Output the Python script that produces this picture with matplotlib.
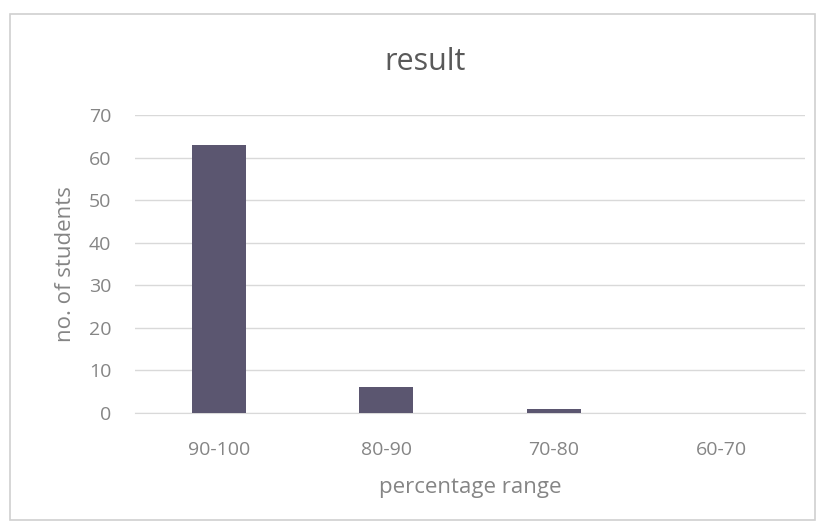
import matplotlib
matplotlib.use("Agg")
import matplotlib.pyplot as plt
from matplotlib.patches import Rectangle

categories = ["90-100", "80-90", "70-80", "60-70"]
students = [63, 6, 1, 0]

TEXT_COLOR = "#858585"
BAR_COLOR = "#5b5670"
GRID_COLOR = "#d9d9d9"

plt.rcParams["font.family"] = ["Open Sans", "DejaVu Sans"]

fig = plt.figure(figsize=(8.21, 5.25), dpi=100)
fig.patches.append(Rectangle((10 / 821, 5 / 525), 805 / 821, 506 / 525,
                             transform=fig.transFigure, fill=False,
                             edgecolor="#d0d0d0", linewidth=1.2))

ax = fig.add_axes([135 / 821, 1 - 413 / 525, 670 / 821, 298 / 525])
x = range(len(categories))
ax.bar(x, students, width=0.32, color=BAR_COLOR, zorder=3)

ax.set_xlim(-0.5, len(categories) - 0.5)
ax.set_ylim(0, 70)
ax.set_yticks(range(0, 71, 10))
ax.set_xticks(list(x))
ax.set_xticklabels(categories)
ax.grid(axis="y", color=GRID_COLOR, linewidth=1, zorder=0)
ax.tick_params(axis="both", length=0, colors=TEXT_COLOR, labelsize=14)
ax.tick_params(axis="x", pad=20)
ax.tick_params(axis="y", pad=17)
for side in ("top", "right", "left"):
    ax.spines[side].set_visible(False)
ax.spines["bottom"].set_color(GRID_COLOR)

fig.text(425 / 821, 1 - 62 / 525, "result", color="#595959", fontsize=22,
         ha="center", va="center")
ax.set_xlabel("percentage range", color=TEXT_COLOR, fontsize=16)
ax.set_ylabel("no. of students", color=TEXT_COLOR, fontsize=16)
ax.xaxis.label.set_va("center")
ax.yaxis.label.set_va("center")
ax.xaxis.set_label_coords(0.5, (413 - 488) / 298)
ax.yaxis.set_label_coords((65 - 135) / 670, 0.5)

fig.savefig("out.png", dpi=100)
